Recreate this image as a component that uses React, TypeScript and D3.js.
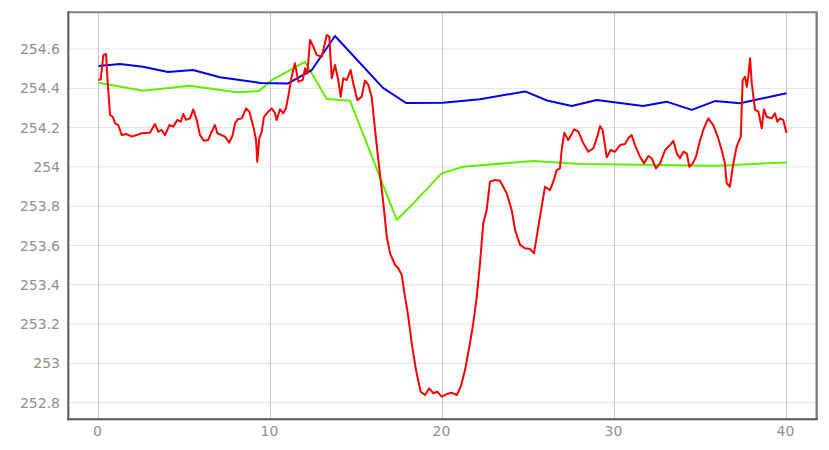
import * as d3 from "d3";

// x ticks and y ticks
const xTicks = [0, 10, 20, 30, 40];
const yTicks = [252.8, 253, 253.2, 253.4, 253.6, 253.8, 254, 254.2, 254.4, 254.6];

// red series (measured)
const redX = [
  0, 0.13, 0.28, 0.44, 0.53, 0.67, 0.83, 0.96, 1.15, 1.35, 1.64, 1.93, 2.22, 2.51, 2.99, 3.28, 3.48, 3.67, 3.87, 4.12,
  4.35, 4.58, 4.78, 4.93, 5.09, 5.32, 5.51, 5.71, 5.9, 6.13, 6.38, 6.58, 6.77, 6.91, 7.16, 7.35, 7.6, 7.8, 7.94, 8.09,
  8.33, 8.58, 8.77, 9.0, 9.16, 9.23, 9.35, 9.49, 9.62, 9.87, 10.07, 10.26, 10.36, 10.55, 10.74, 10.9, 11.03, 11.23, 11.42, 11.62,
  11.87, 12.01, 12.14, 12.3, 12.49, 12.69, 12.98, 13.27, 13.42, 13.56, 13.75, 13.94, 14.08, 14.23, 14.43, 14.66, 14.81, 15.05, 15.3, 15.49,
  15.69, 15.88, 16.08, 16.27, 16.47, 16.56, 16.76, 16.95, 17.24, 17.43, 17.63, 17.82, 18.01, 18.21, 18.46, 18.73, 18.98, 19.23, 19.47, 19.7,
  19.95, 20.24, 20.53, 20.83, 21.06, 21.31, 21.56, 21.79, 21.99, 22.18, 22.37, 22.57, 22.76, 23.05, 23.34, 23.53, 23.73, 24.02, 24.22, 24.51,
  24.8, 25.09, 25.32, 25.48, 25.67, 25.96, 26.25, 26.44, 26.64, 26.83, 26.93, 27.08, 27.31, 27.65, 27.9, 28.19, 28.48, 28.77, 29.0, 29.16,
  29.31, 29.55, 29.78, 30.03, 30.32, 30.61, 30.8, 31.0, 31.19, 31.48, 31.72, 31.97, 32.16, 32.41, 32.65, 32.94, 33.23, 33.42, 33.62, 33.81,
  34.0, 34.2, 34.35, 34.55, 34.74, 34.93, 35.16, 35.45, 35.74, 36.03, 36.23, 36.42, 36.52, 36.71, 36.91, 37.1, 37.34, 37.45, 37.59, 37.69,
  37.78, 37.88, 37.98, 38.17, 38.37, 38.56, 38.69, 38.85, 39.14, 39.33, 39.47, 39.62, 39.81, 40,
];
const redY = [
  254.442, 254.446, 254.569, 254.575, 254.434, 254.264, 254.255, 254.222, 254.213, 254.162, 254.167, 254.154, 254.162, 254.171, 254.174, 254.218, 254.179, 254.188, 254.162, 254.213,
  254.205, 254.239, 254.23, 254.269, 254.239, 254.247, 254.293, 254.239, 254.162, 254.133, 254.137, 254.179, 254.213, 254.171, 254.162, 254.154, 254.123, 254.162, 254.222, 254.242,
  254.247, 254.298, 254.281, 254.205, 254.137, 254.026, 254.146, 254.179, 254.255, 254.281, 254.298, 254.273, 254.239, 254.293, 254.273, 254.298, 254.357, 254.459, 254.527, 254.434,
  254.442, 254.502, 254.476, 254.646, 254.612, 254.569, 254.561, 254.671, 254.663, 254.451, 254.519, 254.442, 254.357, 254.451, 254.442, 254.493, 254.425, 254.34, 254.357, 254.439,
  254.417, 254.357, 254.188, 254.035, 253.882, 253.816, 253.645, 253.56, 253.501, 253.484, 253.45, 253.339, 253.238, 253.102, 252.966, 252.856, 252.839, 252.873, 252.848, 252.856,
  252.831, 252.844, 252.851, 252.839, 252.881, 252.966, 253.085, 253.204, 253.339, 253.509, 253.713, 253.781, 253.925, 253.933, 253.93, 253.899, 253.866, 253.781, 253.679, 253.603,
  253.586, 253.582, 253.56, 253.645, 253.747, 253.899, 253.882, 253.925, 253.984, 253.993, 254.086, 254.174, 254.137, 254.191, 254.179, 254.12, 254.077, 254.095, 254.154, 254.208,
  254.188, 254.049, 254.086, 254.077, 254.111, 254.117, 254.146, 254.162, 254.111, 254.052, 254.018, 254.055, 254.044, 253.993, 254.018, 254.086, 254.111, 254.133, 254.069, 254.044,
  254.077, 254.069, 254.001, 254.018, 254.052, 254.12, 254.188, 254.247, 254.213, 254.146, 254.086, 254.018, 253.917, 253.899, 254.018, 254.103, 254.154, 254.442, 254.459, 254.408,
  254.459, 254.553, 254.425, 254.29, 254.281, 254.196, 254.293, 254.255, 254.247, 254.273, 254.23, 254.247, 254.239, 254.174,
];

// blue series
const blueX = [0, 1.25, 2.59, 4.04, 5.49, 7.06, 9.42, 11.02, 12.4, 13.75, 16.54, 17.88, 20.03, 22.18, 24.8, 26.08, 27.51, 28.97, 31.66, 33.03, 34.49, 35.84, 37.3, 40];
const blueY = [254.513, 254.524, 254.51, 254.483, 254.493, 254.456, 254.427, 254.425, 254.493, 254.666, 254.402, 254.325, 254.327, 254.344, 254.384, 254.338, 254.31, 254.34, 254.31, 254.332, 254.29, 254.335, 254.324, 254.375];

// green series
const greenX = [0, 2.59, 5.32, 8.03, 9.33, 10.15, 12.0, 13.27, 14.62, 17.34, 18.5, 19.95, 21.19, 25.26, 27.99, 35.94, 40];
const greenY = [254.428, 254.388, 254.413, 254.38, 254.386, 254.446, 254.535, 254.346, 254.337, 253.73, 253.832, 253.967, 254.001, 254.03, 254.015, 254.006, 254.023];

const W = 829;
const H = 450;
const frame = { left: 68.3, right: 816.7, top: 12.3, bottom: 419.3 };

export default function App() {
  const x = d3.scaleLinear().domain([0, 40]).range([98.5, 786.5]);
  const y = d3.scaleLinear().domain([252.8, 254.6]).range([402.7, 49]);

  const line = d3
    .line<[number, number]>()
    .x((d) => x(d[0]))
    .y((d) => y(d[1]));

  const zip = (xs: number[], ys: number[]) => xs.map((v, i) => [v, ys[i]] as [number, number]);

  const series = [
    { pts: zip(greenX, greenY), color: "#5ef000" },
    { pts: zip(blueX, blueY), color: "#0000f0" },
    { pts: zip(redX, redY), color: "#ff0000" },
  ];

  const fmt = (t: number) => String(+t.toFixed(1));

  return (
    <svg
      width={W}
      height={H}
      style={{ position: "fixed", left: 0, top: 0, background: "#fff" }}
      fontFamily="DejaVu Sans"
      fontSize={14}
    >
      {yTicks.map((t) => (
        <g key={t}>
          <line x1={frame.left} x2={frame.right} y1={y(t)} y2={y(t)} stroke="#e4e4e4" strokeWidth={1} />
          <text x={60} y={y(t)} dy="0.36em" textAnchor="end" fill="#8f8f8f">
            {fmt(t)}
          </text>
        </g>
      ))}
      {xTicks.map((t) => (
        <g key={t}>
          <line x1={x(t)} x2={x(t)} y1={frame.top} y2={frame.bottom} stroke="#c8c8c8" strokeWidth={1} />
          <text x={x(t) - 1} y={436} textAnchor="middle" fill="#8f8f8f">
            {t}
          </text>
        </g>
      ))}

      {series.map((s, i) => (
        <path key={i} d={line(s.pts) ?? ""} fill="none" stroke={s.color} strokeWidth={2} strokeLinejoin="round" />
      ))}

      {/* frame */}
      <line x1={frame.left} x2={frame.right + 1} y1={frame.top} y2={frame.top} stroke="#808080" strokeWidth={2} />
      <line x1={frame.right} x2={frame.right} y1={frame.top} y2={frame.bottom} stroke="#808080" strokeWidth={2.5} />
      <line x1={frame.left} x2={frame.left} y1={frame.top - 1} y2={frame.bottom + 1} stroke="#555" strokeWidth={2} />
      <line x1={frame.left - 1} x2={frame.right + 1} y1={frame.bottom} y2={frame.bottom} stroke="#555" strokeWidth={2} />
    </svg>
  );
}
